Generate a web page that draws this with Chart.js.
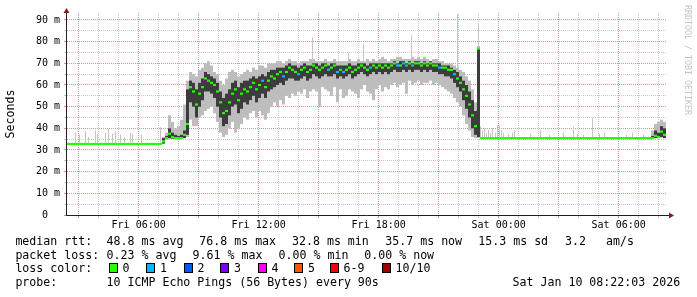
<!DOCTYPE html>
<html>
<head>
<meta charset="utf-8">
<script src="https://cdn.jsdelivr.net/npm/chart.js@4.4.1/dist/chart.umd.min.js"></script>
<style>
  body { margin: 0; background: #fff; }
  #wrap { position: relative; width: 697px; height: 297px; overflow: hidden; font-family: "DejaVu Sans Mono", monospace; }
  #c { position: absolute; left: 0; top: 0; }
  .t { position: absolute; font-size: 11.6px; line-height: 14px; white-space: pre; color: #000; }
  .box { position: absolute; top: 263px; width: 7px; height: 8px; border: 1px solid #000; }
  #mark { position: absolute; left: 683px; top: 5px; writing-mode: vertical-rl; font-size: 8.3px; line-height: 9px; color: #c4c4c4; }
</style>
</head>
<body>
<div id="wrap">
  <canvas id="c" width="697" height="297"></canvas>
  <div id="mark">RRDTOOL / TOBI OETIKER</div>

  <div class="t" style="left:15.4px;top:234px">median rtt:</div>
  <div class="t" style="left:106.6px;top:234px">48.8 ms avg</div>
  <div class="t" style="left:199.3px;top:234px">76.8 ms max</div>
  <div class="t" style="left:292px;top:234px">32.8 ms min</div>
  <div class="t" style="left:385.3px;top:234px">35.7 ms now</div>
  <div class="t" style="left:478.3px;top:234px">15.3 ms sd</div>
  <div class="t" style="left:565px;top:234px">3.2</div>
  <div class="t" style="left:606px;top:234px">am/s</div>

  <div class="t" style="left:15.4px;top:248px">packet loss:</div>
  <div class="t" style="left:106.6px;top:248px">0.23 % avg</div>
  <div class="t" style="left:192.6px;top:248px">9.61 % max</div>
  <div class="t" style="left:278.6px;top:248px">0.00 % min</div>
  <div class="t" style="left:364.3px;top:248px">0.00 % now</div>

  <div class="t" style="left:15.4px;top:261px">loss color:</div>
  <div id="losslegend"></div>

  <div class="t" style="left:15.4px;top:275px">probe:</div>
  <div class="t" style="left:106.6px;top:275px">10 ICMP Echo Pings (56 Bytes) every 90s</div>
  <div class="t" style="left:512.6px;top:275px">Sat Jan 10 08:22:03 2026</div>
</div>
<script>
// time axis: hours after Fri 02:22:03, 30 h window, one column per 9 minutes
const colStart = 0.075;
const colStep = 0.15;

const tickLabels = ['Fri 06:00', 'Fri 12:00', 'Fri 18:00', 'Sat 00:00', 'Sat 06:00'];
const tickHours = [3.6325, 9.6325, 15.6325, 21.6325, 27.6325];
const firstHourMark = 0.6325; // Fri 03:00

// median rtt per column (ms)
const med = [
  32.8,32.8,32.8,32.8,32.8,32.8,32.8,32.8,
  32.8,32.8,32.8,32.8,32.8,32.8,32.8,32.8,
  32.8,32.8,32.8,32.8,32.8,32.8,32.8,32.8,
  32.8,32.8,32.8,32.8,32.8,32.8,32.8,32.8,
  34,35.5,37.5,36,35.5,35.5,35.5,37,42,
  59,57,51,56,59,63,62,61,60,57,52,47,48,52,56,58,53,56,58,57,59,61,58,60,62,
  59,62,64,63,65,66,64,66,68,67,66,65,67,68,66,67,69,68,67,68,69,67,68,69,66,67,
  66,67,68,66,67,68,69,68,67,68,69,68,69,68,69,68,69,70,69,69,70,69,70,69,70,70,69,70,69,70,69,69,68,68,68,67,67,
  65,63,61,58,55,51,46,41,76.8,
  35.5,35.5,35.5,35.5,35.5,35.5,35.5,35.5,35.5,35.5,
  35.5,35.5,35.5,35.5,35.5,35.5,35.5,35.5,35.5,35.5,
  35.5,35.5,35.5,35.5,35.5,35.5,35.5,35.5,35.5,35.5,
  35.5,35.5,35.5,35.5,35.5,35.5,35.5,35.5,35.5,35.5,
  35.5,35.5,35.5,35.5,35.5,35.5,35.5,35.5,35.5,35.5,
  35.5,35.5,35.5,35.5,35.5,35.5,35.5,
  35.5,36.5,36,38.5,37
];

// outer smoke (lowest / highest ping)
const lo = [
  32.8,32.8,32.8,32.8,32.8,32.8,32.8,32.8,
  32.8,32.8,32.8,32.8,32.8,32.8,32.8,32.8,
  32.8,32.8,32.8,32.8,32.8,32.8,32.8,32.8,
  32.8,32.8,32.8,32.8,32.8,32.8,32.8,32.8,
  32.8,35,35,35,35,35,35,35.5,36,
  44,41,41,45,46,48,49,50,47,43,38,36,37,40,43,38,40,42,45,44,47,48,45,48,46,
  44,47,50,52,50,53,51,55,54,56,55,57,56,58,54,57,58,57,50,59,58,57,55,59,52,58,
  54,55,58,57,56,54,58,60,57,56,53,58,60,57,59,58,60,61,59,60,61,56,62,60,61,62,60,61,61,62,60,61,60,59,58,57,56,
  54,52,50,46,42,39,36,35.5,35.5,
  35.5,35.5,35.5,35.5,35.5,35.5,35.5,35.5,35.5,35.5,
  35.5,35.5,35.5,35.5,35.5,35.5,35.5,35.5,35.5,35.5,
  35.5,35.5,35.5,35.5,35.5,35.5,35.5,35.5,35.5,35.5,
  35.5,35.5,35.5,35.5,35.5,35.5,35.5,35.5,35.5,35.5,
  35.5,35.5,35.5,35.5,35.5,35.5,35.5,35.5,35.5,35.5,
  35.5,35.5,35.5,35.5,35.5,35.5,35.5,
  35.5,35.5,35.5,35.5,35.5
];
const hi = [
  32.8,32.8,32.8,32.8,32.8,32.8,32.8,32.8,
  32.8,32.8,32.8,32.8,32.8,32.8,32.8,32.8,
  32.8,32.8,32.8,32.8,32.8,32.8,32.8,32.8,
  32.8,32.8,32.8,32.8,32.8,32.8,32.8,32.8,
  36,38,46,43,40,41,44,51,62,
  66,65,64,67,68,70,71,69,66,65,62,60,63,66,67,66,64,65,66,67,66,68,67,69,69,
  68,70,70,70,71,71,70,71,72,71,71,70,71,71,71,72,72,71,71,71,72,71,71,72,71,71,
  71,71,72,71,71,72,71,71,72,71,72,71,72,73,72,71,72,72,73,73,72,72,72,73,72,73,72,73,72,71,72,72,71,71,70,70,70,
  69,68,67,66,64,62,58,52,78,
  35.5,35.5,35.5,35.5,35.5,35.5,35.5,35.5,35.5,35.5,
  35.5,35.5,35.5,35.5,35.5,35.5,35.5,35.5,35.5,35.5,
  35.5,35.5,35.5,35.5,35.5,35.5,35.5,35.5,35.5,35.5,
  35.5,35.5,35.5,35.5,35.5,35.5,35.5,35.5,35.5,35.5,
  35.5,35.5,35.5,35.5,35.5,35.5,35.5,35.5,35.5,35.5,
  35.5,35.5,35.5,35.5,35.5,35.5,35.5,
  39,42,43,44,43
];

// inner (dark) smoke
const inLo = [
  32.8,32.8,32.8,32.8,32.8,32.8,32.8,32.8,
  32.8,32.8,32.8,32.8,32.8,32.8,32.8,32.8,
  32.8,32.8,32.8,32.8,32.8,32.8,32.8,32.8,
  32.8,32.8,32.8,32.8,32.8,32.8,32.8,32.8,
  33,35.2,35.5,35.3,35.2,35.2,35.2,35.5,37,
  52,50,45,50,53,57,57,56,54,50,45,41,42,46,50,51,47,49,52,51,53,55,52,54,56,
  54,57,58,59,60,61,60,62,63,63,62,62,63,64,62,63,65,64,63,64,65,64,64,65,63,64,
  63,64,65,63,64,65,66,65,64,65,66,65,66,65,66,65,66,67,66,66,67,66,67,66,67,67,66,67,66,67,66,66,65,65,64,64,63,
  61,59,57,53,49,45,40,37,36,
  35.5,35.5,35.5,35.5,35.5,35.5,35.5,35.5,35.5,35.5,
  35.5,35.5,35.5,35.5,35.5,35.5,35.5,35.5,35.5,35.5,
  35.5,35.5,35.5,35.5,35.5,35.5,35.5,35.5,35.5,35.5,
  35.5,35.5,35.5,35.5,35.5,35.5,35.5,35.5,35.5,35.5,
  35.5,35.5,35.5,35.5,35.5,35.5,35.5,35.5,35.5,35.5,
  35.5,35.5,35.5,35.5,35.5,35.5,35.5,
  35.5,35.5,35.5,36,35.5
];
const inHi = [
  32.8,32.8,32.8,32.8,32.8,32.8,32.8,32.8,
  32.8,32.8,32.8,32.8,32.8,32.8,32.8,32.8,
  32.8,32.8,32.8,32.8,32.8,32.8,32.8,32.8,
  32.8,32.8,32.8,32.8,32.8,32.8,32.8,32.8,
  35.5,36.5,40,38,37,36.5,37,39,58,
  62,61,58,61,63,66,65,64,63,61,57,54,56,58,61,62,59,61,62,62,63,64,63,64,65,
  64,66,67,67,68,68,68,69,70,69,69,68,69,70,69,69,70,70,69,70,70,69,70,70,69,69,
  69,69,70,69,69,70,70,70,69,70,70,70,70,70,70,70,70,71,70,71,71,70,71,70,71,71,70,71,70,71,70,70,70,69,69,69,68,
  67,66,64,62,60,57,53,48,77,
  35.5,35.5,35.5,35.5,35.5,35.5,35.5,35.5,35.5,35.5,
  35.5,35.5,35.5,35.5,35.5,35.5,35.5,35.5,35.5,35.5,
  35.5,35.5,35.5,35.5,35.5,35.5,35.5,35.5,35.5,35.5,
  35.5,35.5,35.5,35.5,35.5,35.5,35.5,35.5,35.5,35.5,
  35.5,35.5,35.5,35.5,35.5,35.5,35.5,35.5,35.5,35.5,
  35.5,35.5,35.5,35.5,35.5,35.5,35.5,
  36.5,39,38,41,40
];

// columns where 1 of 10 pings was lost
const lossOneCols = [65, 72, 77, 87, 90, 92, 101, 110, 112, 113, 115, 124, 129];

// single slow pings (thin spikes)
const spikeHour = [0.475,0.675,0.975,1.125,1.475,1.575,1.975,2.125,2.325,2.475,2.725,2.925,3.225,3.325,3.775,4.725,
  12.325,14.125,14.875,17.275,19.575,20.625,
  20.725,20.825,20.925,21.025,21.125,21.225,21.325,21.475,21.575,21.675,21.775,21.875,22.125,22.325,22.425,
  23.225,23.725,24.175,24.875,25.375,25.575,25.875,26.325,26.675,26.925,27.625,28.025,28.325,28.875];
const spikeLow = [33.3,33.3,33.3,33.3,33.3,33.3,33.3,33.3,33.3,33.3,33.3,33.3,33.3,33.3,33.3,33.3,
  70,70,71,72,68,77,
  36,36,36,36,36,36,36,36,36,36,36,36,36,36,36,
  36,36,36,36,36,36,36,36,36,36,36,36,36,36];
const spikeTop = [38,37,38.5,36,39,37.5,38,39.7,37.5,38.5,37,36,38,37.5,37,40.5,
  82,75,79,83,92.5,88,
  41,39,40,38,39.5,38,40,38,41.5,41.5,39,38,37.5,38,39,
  37.5,39,37,38,40.8,37.5,37,45,37.5,38,37.5,37,38,37];

const lossColors = ['#26ff00', '#00b8ff', '#0059ff', '#7e00ff', '#ff00ff', '#ff5500', '#ff0000', '#a10000'];
const lossLabels = ['0', '1', '2', '3', '4', '5', '6-9', '10/10'];

const boxLeft = [108.5, 146, 183.5, 220, 257.5, 294, 329.5, 381.5];
const lossLegend = document.getElementById('losslegend');
lossLabels.forEach((l, i) => {
  const b = document.createElement('div');
  b.className = 'box';
  b.style.left = boxLeft[i] + 'px';
  b.style.background = lossColors[i];
  lossLegend.appendChild(b);
  const t = document.createElement('div');
  t.className = 't';
  t.style.left = (boxLeft[i] + 14) + 'px';
  t.style.top = '261px';
  t.textContent = l;
  lossLegend.appendChild(t);
});

const colX = i => colStart + colStep * i;
const band = (a, b) => a.map((v, i) => ({ x: colX(i), y: [v, b[i]] }));

const gridMinor = 'rgb(200,200,200)';
const gridMajor = 'rgb(236,140,140)';
const axisColor = '#1f1f1f';
const arrowColor = '#801f1f';

const xTicks = [];
for (let h = firstHourMark; h < 30; h += 1) xTicks.push(h);

Chart.defaults.font.family = '"DejaVu Sans Mono", monospace';
Chart.defaults.color = '#000';

const arrows = {
  id: 'arrows',
  afterDraw(chart) {
    const { ctx, chartArea: a } = chart;
    ctx.save();
    ctx.strokeStyle = axisColor;
    ctx.lineWidth = 1;
    ctx.beginPath();
    ctx.moveTo(a.right, a.bottom + 0.5);
    ctx.lineTo(a.right + 4, a.bottom + 0.5);
    ctx.moveTo(a.left + 0.5, a.top);
    ctx.lineTo(a.left + 0.5, a.top - 2);
    ctx.stroke();
    ctx.fillStyle = arrowColor;
    ctx.beginPath();
    ctx.moveTo(a.right + 8, a.bottom + 0.5);
    ctx.lineTo(a.right + 3, a.bottom - 2.5);
    ctx.lineTo(a.right + 3, a.bottom + 3.5);
    ctx.closePath();
    ctx.fill();
    ctx.beginPath();
    ctx.moveTo(a.left + 0.5, a.top - 5);
    ctx.lineTo(a.left - 2.5, a.top);
    ctx.lineTo(a.left + 3.5, a.top);
    ctx.closePath();
    ctx.fill();
    ctx.restore();
  }
};

const barBase = { type: 'bar', grouped: false, borderWidth: 0, inflateAmount: 0, barThickness: 3 };

new Chart(document.getElementById('c'), {
  type: 'bar',
  data: {
    datasets: [
      Object.assign({}, barBase, {
        label: 'median',
        order: 1,
        data: med.map((v, i) => ({ x: colX(i), y: [v - 0.5, v + 0.5] })),
        backgroundColor: med.map((v, i) => lossOneCols.includes(i) ? lossColors[1] : lossColors[0])
      }),
      Object.assign({}, barBase, {
        label: 'inner',
        order: 2,
        data: band(inLo, inHi),
        backgroundColor: '#3c3c3c'
      }),
      Object.assign({}, barBase, {
        label: 'spikes',
        order: 3,
        barThickness: 1,
        data: spikeHour.map((h, i) => ({ x: h, y: [spikeLow[i], spikeTop[i]] })),
        backgroundColor: '#c4c4c4'
      }),
      Object.assign({}, barBase, {
        label: 'outer',
        order: 4,
        data: band(lo, hi),
        backgroundColor: '#bdbdbd'
      })
    ]
  },
  options: {
    responsive: false,
    animation: false,
    devicePixelRatio: 1,
    layout: { padding: { left: 0, right: 31, top: 13, bottom: 0 } },
    plugins: { legend: { display: false }, tooltip: { enabled: false } },
    scales: {
      x: {
        type: 'linear',
        min: 0,
        max: 30,
        offset: false,
        afterFit: s => { s.height = 82; },
        afterBuildTicks: s => { s.ticks = xTicks.map(v => ({ value: v })); },
        grid: {
          offset: false,
          lineWidth: 1,
          tickLength: 3,
          color: c => (Math.round(c.tick.value - firstHourMark) % 3 === 0 ? gridMajor : gridMinor),
          tickColor: c => (Math.round(c.tick.value - firstHourMark) % 3 === 0 ? gridMajor : gridMinor)
        },
        border: { color: axisColor, width: 1, dash: [1, 1], z: 1 },
        ticks: {
          autoSkip: false,
          maxRotation: 0,
          minRotation: 0,
          padding: 1,
          font: { size: 10 },
          callback: v => {
            const k = tickHours.findIndex(h => Math.abs(h - v) < 0.01);
            return k < 0 ? '' : tickLabels[k];
          }
        }
      },
      y: {
        min: 0,
        max: 93.23,
        afterFit: s => { s.width = 66; },
        afterBuildTicks: s => {
          const t = [];
          for (let v = 0; v <= 90; v += 5) t.push({ value: v });
          s.ticks = t;
        },
        grid: {
          lineWidth: 1,
          tickLength: 2,
          color: c => (c.tick.value % 10 === 0 ? gridMajor : gridMinor),
          tickColor: c => (c.tick.value % 10 === 0 ? gridMajor : gridMinor)
        },
        border: { color: axisColor, width: 1, dash: [1, 1], z: 1 },
        title: {
          display: true,
          text: 'Seconds',
          font: { size: 11.6 },
          padding: { top: 4, bottom: 0 }
        },
        ticks: {
          autoSkip: false,
          padding: 4,
          font: { size: 10 },
          callback: v => (v % 10 !== 0 ? '' : (v === 0 ? '0  ' : v + ' m'))
        }
      }
    }
  },
  plugins: [arrows]
});
</script>
</body>
</html>
